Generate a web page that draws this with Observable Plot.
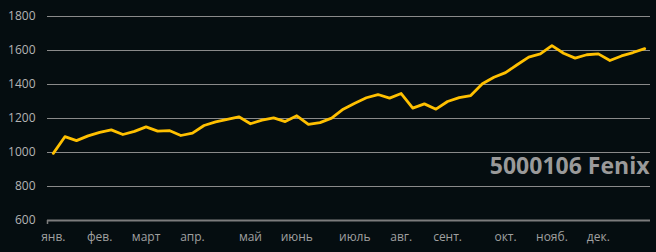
<!DOCTYPE html>
<html>
<head>
<meta charset="utf-8">
<script src="https://cdn.jsdelivr.net/npm/d3@7"></script>
<script src="https://cdn.jsdelivr.net/npm/@observablehq/plot@0.6"></script>
<style>
  html, body { margin: 0; padding: 0; background: #050d10; }
  #chart svg { display: block; background: #050d10; }
</style>
</head>
<body>
<div id="chart"></div>
<script>
// Weekly values (52 weeks)
const values = [995,1093,1070,1098,1118,1133,1106,1124,1151,1126,
                1129,1100,1114,1159,1180,1195,1210,1169,1190,1204,
                1182,1216,1165,1176,1202,1255,1290,1322,1341,1320,
                1347,1261,1286,1255,1300,1323,1335,1404,1443,1470,
                1516,1561,1580,1629,1584,1555,1575,1580,1541,1568,
                1588,1611];
// Month labels and the week at which each month's label sits
const monthLabels = ["янв.","фев.","март","апр.","май","июнь","июль","авг.","сент.","окт.","нояб.","дек."];
const monthWeeks  = [0,4,8,12,17,21,26,30,34,39,43,47];
const yTicks = [600,800,1000,1200,1400,1600,1800];
const gridValues = [800,1000,1200,1400,1600,1800];
const title = "5000106 Fenix";

const data = values.map((v, i) => ({week: i, value: v}));
const labelOf = new Map(monthWeeks.map((w, i) => [w, monthLabels[i]]));

const bg = "#050d10";
const font = "'Open Sans', sans-serif";

const chart = Plot.plot({
  width: 656,
  height: 252,
  marginLeft: 47,
  marginRight: 6,
  marginTop: 16,
  marginBottom: 32,
  style: {background: bg, fontFamily: font, fontSize: "12px"},
  x: {domain: [-0.5, values.length - 0.5]},
  y: {domain: [600, 1800]},
  marks: [
    Plot.ruleY(gridValues, {stroke: "#8a8a8a", strokeWidth: 1}),
    Plot.ruleY([600], {stroke: "#7c7c7c", strokeWidth: 2}),
    Plot.axisX([-0.5], {tickSize: 4, tickFormat: () => "", stroke: "#7c7c7c", strokeWidth: 1.5, label: null}),
    Plot.axisY(yTicks, {tickSize: 0, tickPadding: 12, fill: "#b4b4b4", fontSize: 12,
                        tickFormat: d => String(d), label: null}),
    Plot.axisX(monthWeeks, {tickSize: 0, tickPadding: 12, fill: "#a0a0a0", fontSize: 12,
                            tickFormat: d => labelOf.get(d), label: null}),
    Plot.line(data, {x: "week", y: "value", stroke: "#ffc000", strokeWidth: 2.8,
                     strokeLinejoin: "round", strokeLinecap: "round"}),
    Plot.text([title], {frameAnchor: "bottom-right", text: d => d, textAnchor: "end",
                        lineAnchor: "bottom", dx: -1, dy: -47, fontSize: 23, fontWeight: "bold",
                        fill: "#9a9a9a", fontFamily: font})
  ]
});
document.getElementById("chart").appendChild(chart);

// Dark box behind the title so the gridline is hidden behind it
d3.select(chart).selectAll("text").filter(function() { return this.textContent === title; })
  .each(function() {
    const b = this.getBBox();
    d3.select(this.parentNode).insert("rect", () => this)
      .attr("x", b.x - 4).attr("y", b.y + 2)
      .attr("width", 656 - (b.x - 4)).attr("height", b.height - 4)
      .attr("fill", bg);
  });
</script>
</body>
</html>
